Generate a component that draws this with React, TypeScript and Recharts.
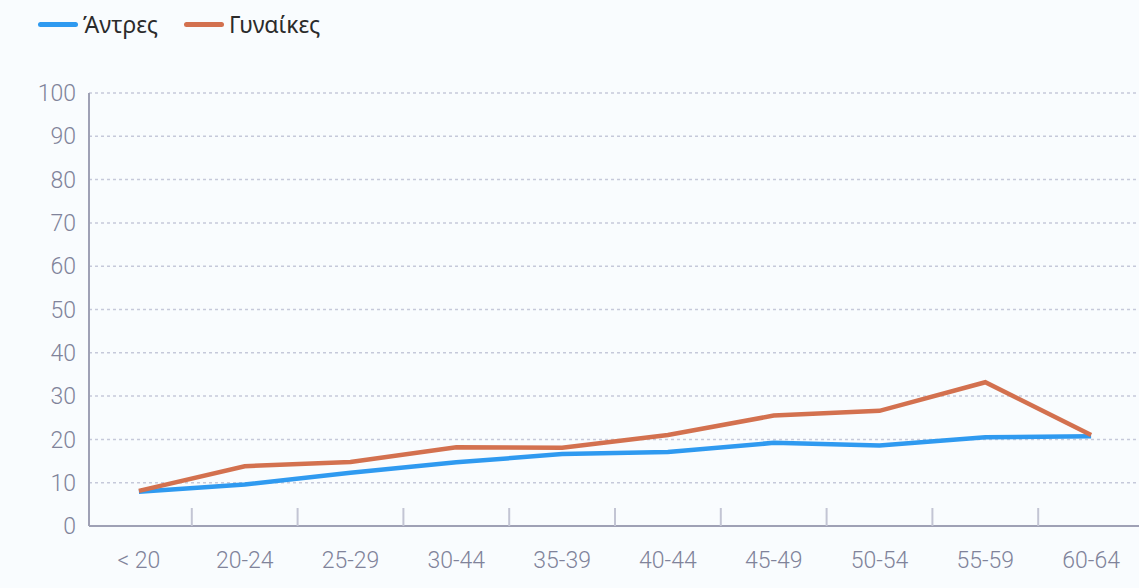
import React from 'react';
import { LineChart, Line, XAxis, YAxis, CartesianGrid } from 'recharts';

// ηλικιακές ομάδες (όπως στην πηγή)
const AGE_GROUPS = ['< 20', '20-24', '25-29', '30-44', '35-39', '40-44', '45-49', '50-54', '55-59', '60-64'];
const MEN = [7.9, 9.6, 12.3, 14.7, 16.6, 17.1, 19.2, 18.6, 20.5, 20.7];
const WOMEN = [8.1, 13.8, 14.8, 18.2, 18.1, 21.0, 25.5, 26.6, 33.2, 21.0];
const Y_TICKS = [0, 10, 20, 30, 40, 50, 60, 70, 80, 90, 100];

const SERIES = [
  { key: 'men', name: 'Άντρες', color: '#2f9af0' },
  { key: 'women', name: 'Γυναίκες', color: '#d3714f' },
];

const CHART_W = 1147;
const Y_AXIS_W = 89;
const HALF_BAND = (CHART_W - Y_AXIS_W) / AGE_GROUPS.length / 2;
const PAD_LEFT = HALF_BAND - 3;
const PAD_RIGHT = HALF_BAND + 3;

const AXIS_COLOR = '#9fa1b5';
const TICK_COLOR = '#80839a';
const TICK_MARGIN_X = 24;

const data = AGE_GROUPS.map((group, i) => ({
  group,
  men: MEN[i],
  women: WOMEN[i],
}));

// ετικέτα άξονα Χ + μικρή γραμμή στο όριο της κατηγορίας
const XTick = (props: any) => {
  const { x, y, payload } = props;
  const axisY = y - TICK_MARGIN_X;
  return (
    <g>
      <line
        x1={x + HALF_BAND}
        x2={x + HALF_BAND}
        y1={axisY - 18}
        y2={axisY}
        stroke='#c3c5d4'
        strokeWidth={2}
      />
      <text
        x={x}
        y={y}
        dy={18}
        textAnchor='middle'
        fill={TICK_COLOR}
        fontSize={23}
        fontFamily='Roboto, sans-serif'
        fontWeight={300}
      >
        {payload.value}
      </text>
    </g>
  );
};

export default function App() {
  return (
    <div
      style={{
        position: 'absolute',
        left: 0,
        top: 0,
        width: 1139,
        height: 588,
        overflow: 'hidden',
        background: '#f9fcfe',
      }}
    >
      {/* υπόμνημα */}
      <div
        style={{
          position: 'absolute',
          left: 38,
          top: 8,
          display: 'flex',
          alignItems: 'center',
          fontFamily: '"Noto Sans", sans-serif',
          fontSize: 23,
          color: '#2b2b2b',
          zIndex: 2,
        }}
      >
        {SERIES.map((s, i) => (
          <div key={s.key} style={{ display: 'flex', alignItems: 'center', marginRight: i === 0 ? 26 : 0 }}>
            <div style={{ width: 40, height: 5, borderRadius: 3, background: s.color, marginRight: 5 }} />
            <span>{s.name}</span>
          </div>
        ))}
      </div>

      <LineChart width={CHART_W} height={588} data={data} margin={{ top: 93, right: 0, bottom: 0, left: 0 }}>
        <CartesianGrid vertical={false} stroke='#c6c9da' strokeDasharray='3 3' strokeWidth={1.5} />
        <XAxis
          dataKey='group'
          interval={0}
          height={62}
          padding={{ left: PAD_LEFT, right: PAD_RIGHT }}
          axisLine={{ stroke: AXIS_COLOR, strokeWidth: 2 }}
          tickLine={false}
          tickSize={0}
          tickMargin={TICK_MARGIN_X}
          tick={<XTick />}
        />
        <YAxis
          width={Y_AXIS_W}
          domain={[0, 100]}
          ticks={Y_TICKS}
          interval={0}
          axisLine={{ stroke: AXIS_COLOR, strokeWidth: 2 }}
          tickLine={false}
          tickSize={0}
          tickMargin={13}
          tick={{ fill: TICK_COLOR, fontSize: 23, fontFamily: 'Roboto, sans-serif', fontWeight: 300 }}
        />
        {SERIES.map((s) => (
          <Line
            key={s.key}
            dataKey={s.key}
            name={s.name}
            type='linear'
            stroke={s.color}
            strokeWidth={4.5}
            dot={false}
            activeDot={false}
            isAnimationActive={false}
          />
        ))}
      </LineChart>
    </div>
  );
}
